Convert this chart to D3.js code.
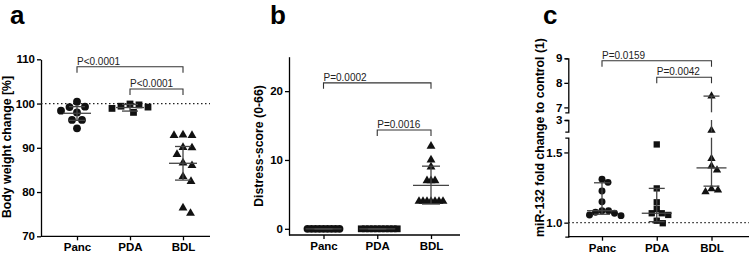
<!DOCTYPE html>
<html>
<head>
<meta charset="utf-8">
<script src="https://cdn.jsdelivr.net/npm/d3@7"></script>
<style>
  body { margin: 0; background: #fff; }
  svg { display: block; font-family: "Liberation Sans", Arial, sans-serif; }
  .tick text { font-weight: bold; font-size: 11.5px; fill: #000; }
  .tick line, .domain { stroke: #000; stroke-width: 1.3; }
</style>
</head>
<body>
<svg id="chart" width="749" height="255"></svg>
<script>
// categories
const cats = ["Panc", "PDA", "BDL"];

// a: body weight change [%]
const weightPanc = [100.4, 99.3, 99.2, 98.4, 98.0, 96.3, 96.3, 94.4];
const weightPDA = [99.9, 99.7, 99.4, 99.2, 98.9, 98.0];
const weightBDL = [92.9, 92.8, 92.8, 90.1, 90.0, 88.5, 86.6, 86.0, 83.5, 82.4, 76.4, 75.2];
const weightMid = [97.8, 99.1, 86.5];
const weightLo = [96.2, 98.3, 82.7];
const weightHi = [99.3, 99.8, 90.3];
const weightTicks = [70, 80, 90, 100, 110];

// b: distress score
const distressPanc = [0, 0, 0, 0, 0, 0, 0, 0, 0];
const distressPDA = [0, 0, 0, 0, 0, 0, 0, 0, 0, 0];
const distressBDL = [12, 10, 9, 7, 7, 7, 4, 4, 4, 4, 4, 4, 4];
const distressMid = [0, 0, 6.3];
const distressLo = [0, 0, 3.6];
const distressHi = [0, 0, 9.1];
const distressTicks = [0, 10, 20];

// c: miR-132 fold change
const mirPanc = [1.31, 1.287, 1.225, 1.149, 1.085, 1.085, 1.074, 1.067, 1.055, 1.05];
const mirPDA = [1.557, 1.244, 1.145, 1.097, 1.067, 1.067, 1.055, 1.014, 0.996];
const mirBDL = [7.46, 1.85, 1.457, 1.403, 1.375, 1.24, 1.232, 1.22];
const mirMid = [1.085, 1.067, 1.39];
const mirLo = [1.06, 1.007, 1.26];
const mirHi = [1.284, 1.244, 7.46];
const mirTicksLow = [1.0, 1.5];
const mirTicksMid = [3];
const mirTicksHigh = [7, 8, 9];

// p-value brackets: [from, to], level (data units), label
const pairs = [["Panc", "BDL"], ["PDA", "BDL"]];
const pLabelsA = ["P<0.0001", "P<0.0001"];
const pLevelsA = [108.3, 103.3];
const pLabelsB = ["P=0.0002", "P=0.0016"];
const pLevelsB = [21.2, 14.35];
const pLabelsC = ["P=0.0159", "P=0.0042"];
const pLevelsC = [8.9, 8.23];

const svg = d3.select("#chart");

// simple beeswarm: horizontal offsets so markers don't pile up
function swarm(values, yFn, D) {
    const placed = [];
    const out = new Array(values.length);
    const order = values.map((v, i) => i).sort((a, b) => values[b] - values[a]);
    order.forEach(i => {
        const y = yFn(values[i]);
        let off = 0;
        for (let k = 0; k < 400; k++) {
            const c = (k % 2 ? 1 : -1) * Math.ceil(k / 2) * 0.5;
            if (placed.every(p => (p.x - c) ** 2 + (p.y - y) ** 2 >= D * D - 0.01)) { off = c; break; }
        }
        placed.push({x: off, y: y});
        out[i] = off;
    });
    return out;
}

const shapes = [d3.symbolCircle, d3.symbolSquare, d3.symbolTriangle];

function drawPanel(p) {
    const g = svg.append("g");
    const x = d3.scalePoint().domain(cats).range(p.xRange);

    // title letter
    g.append("text")
        .attr("x", p.titleX).attr("y", 24)
        .style("font-size", "26px").style("font-weight", "bold")
        .text(p.title);

    // y label
    g.append("text")
        .attr("transform", `translate(${p.labelX},${p.labelY}) rotate(-90)`)
        .attr("text-anchor", "middle")
        .style("font-size", "12.3px").style("font-weight", "bold")
        .text(p.yLabel);

    // y axis segments
    p.segments.forEach(s => {
        g.append("g")
            .attr("transform", `translate(${p.left},0)`)
            .call(d3.axisLeft(s.scale).tickValues(s.ticks).tickFormat(s.fmt)
                .tickSize(4).tickPadding(2).tickSizeOuter(s.outer));
    });

    // x axis
    const xa = g.append("g")
        .attr("transform", `translate(0,${p.bottom})`)
        .call(d3.axisBottom(x).tickSize(4).tickPadding(3));
    xa.select(".domain").remove();
    xa.selectAll(".tick text").style("font-size", "11.5px");
    g.append("line")
        .attr("x1", p.left).attr("x2", p.right)
        .attr("y1", p.bottom).attr("y2", p.bottom)
        .attr("stroke", "#000").attr("stroke-width", 1.3);

    // dotted reference line
    if (p.refLine !== undefined) {
        g.append("line")
            .attr("x1", p.left).attr("x2", p.right)
            .attr("y1", p.y(p.refLine)).attr("y2", p.y(p.refLine))
            .attr("stroke", "#222").attr("stroke-width", 1.2)
            .attr("stroke-dasharray", "1.5,2.5");
    }

    // points
    p.groups.forEach((vals, gi) => {
        const offs = swarm(vals, p.y, p.spread);
        g.selectAll(null)
            .data(vals)
            .join("path")
            .attr("transform", (d, i) => `translate(${x(cats[gi]) + offs[i]},${p.y(d)})`)
            .attr("d", d3.symbol().type(shapes[gi]).size(p.markSize[gi]))
            .attr("fill", "#111");
    });

    // error bars (centre line + whiskers)
    cats.forEach((c, i) => {
        const cx = x(c);
        p.segments.forEach(s => {
            const [d0, d1] = s.scale.domain();
            const lo = Math.max(p.lo[i], d0), hi = Math.min(p.hi[i], d1);
            if (hi > lo) {
                g.append("line")
                    .attr("x1", cx).attr("x2", cx)
                    .attr("y1", s.scale(lo)).attr("y2", s.scale(hi))
                    .attr("stroke", "#444").attr("stroke-width", 1.3);
            }
        });
        g.append("line")
            .attr("x1", cx - p.midW).attr("x2", cx + p.midW)
            .attr("y1", p.y(p.mid[i])).attr("y2", p.y(p.mid[i]))
            .attr("stroke", "#444").attr("stroke-width", 1.3);
        [p.lo[i], p.hi[i]].forEach(v => {
            g.append("line")
                .attr("x1", cx - p.capW).attr("x2", cx + p.capW)
                .attr("y1", p.y(v)).attr("y2", p.y(v))
                .attr("stroke", "#444").attr("stroke-width", 1.3);
        });
    });

    // significance brackets
    pairs.forEach((pr, i) => {
        const x1 = x(pr[0]), x2 = x(pr[1]), yy = p.y(p.pLevels[i]);
        g.append("path")
            .attr("d", `M${x1},${yy + 6}V${yy}H${x2}V${yy + 6}`)
            .attr("fill", "none").attr("stroke", "#333").attr("stroke-width", 1.1);
        g.append("text")
            .attr("x", x1).attr("y", yy - 1.8)
            .style("font-size", "10px").attr("fill", "#222")
            .text(p.pLabels[i]);
    });
}

// panel a
const yA = d3.scaleLinear().domain([70, 110]).range([236.3, 59.3]);
drawPanel({
    title: "a", titleX: 10, labelX: 11, labelY: 147, yLabel: "Body weight change [%]",
    left: 41, right: 210, bottom: 236.3, xRange: [77, 183],
    y: yA,
    segments: [{scale: yA, ticks: weightTicks, fmt: d3.format("d"), outer: 0}],
    groups: [weightPanc, weightPDA, weightBDL],
    mid: weightMid, lo: weightLo, hi: weightHi,
    refLine: 100, spread: 9, markSize: [48, 46, 34], midW: 14, capW: 8,
    pLevels: pLevelsA, pLabels: pLabelsA
});

// panel b
const yB = d3.scaleLinear().domain([-0.9, 25]).range([235, 56.7]);
drawPanel({
    title: "b", titleX: 270, labelX: 263, labelY: 146, yLabel: "Distress-score (0-66)",
    left: 289, right: 460, bottom: 235, xRange: [323.5, 431],
    y: yB,
    segments: [{scale: yB, ticks: distressTicks, fmt: d3.format("d"), outer: 0}],
    groups: [distressPanc, distressPDA, distressBDL],
    mid: distressMid, lo: distressLo, hi: distressHi,
    spread: 3.8, markSize: [48, 46, 34], midW: 18, capW: 9,
    pLevels: pLevelsB, pLabels: pLabelsB
});

// panel c: broken y axis in three segments
const yC1 = d3.scaleLinear().domain([0.9, 1.605]).range([236.7, 137.7]);
const yC2 = d3.scaleLinear().domain([1.7, 3]).range([131.7, 120]);
const yC3 = d3.scaleLinear().domain([6.8, 9]).range([112.3, 58.3]);
const yC = v => v <= 1.605 ? yC1(v) : (v <= 3 ? yC2(v) : yC3(v));
drawPanel({
    title: "c", titleX: 543, labelX: 544, labelY: 137.5, yLabel: "miR-132  fold change to control (1)",
    left: 568.3, right: 749, bottom: 236.7, xRange: [602, 711.5],
    y: yC,
    segments: [
        {scale: yC1, ticks: mirTicksLow, fmt: d3.format(".1f"), outer: 3},
        {scale: yC2, ticks: mirTicksMid, fmt: d3.format("d"), outer: 3},
        {scale: yC3, ticks: mirTicksHigh, fmt: d3.format("d"), outer: 3}
    ],
    groups: [mirPanc, mirPDA, mirBDL],
    mid: mirMid, lo: mirLo, hi: mirHi,
    refLine: 1.0, spread: 6.5, markSize: [38, 40, 30], midW: 15, capW: 8,
    pLevels: pLevelsC, pLabels: pLabelsC
});
</script>
</body>
</html>
